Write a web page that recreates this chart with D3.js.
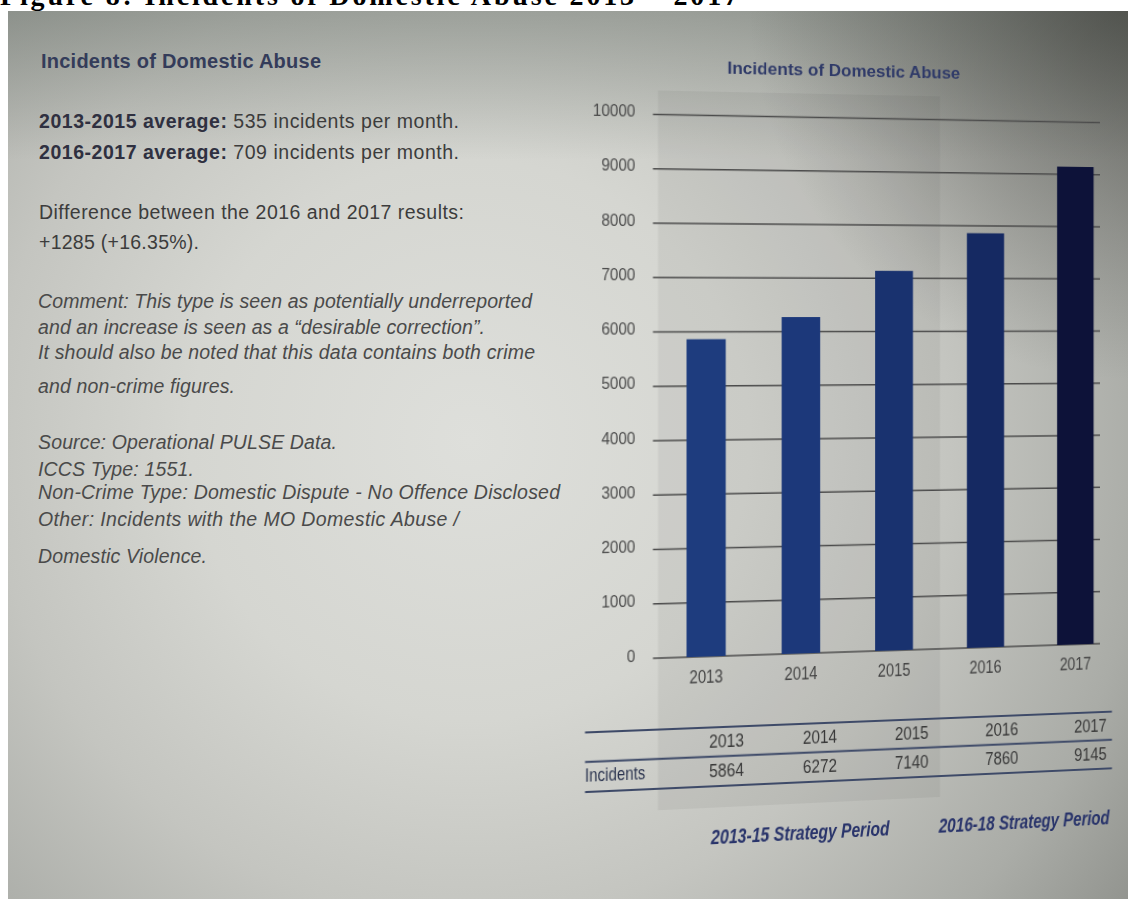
<!DOCTYPE html>
<html><head><meta charset="utf-8">
<script src="https://cdn.jsdelivr.net/npm/d3@7"></script>
<style>
html,body{margin:0;padding:0;background:#fff;width:1128px;height:899px;overflow:hidden}
#bg{position:absolute;left:0;top:0}
#chartWrap{position:absolute;left:0;top:0;width:1128px;height:899px;
  transform-origin:875px 310px;transform:perspective(1000px) rotateY(5.5deg)}
#chart{overflow:visible}
</style></head><body>
<svg id="bg" width="1128" height="899"></svg>
<div id="chartWrap"><svg id="chart" width="1128" height="899"></svg></div>
<script>
// ---------------- data ----------------
const years = ["2013", "2014", "2015", "2016", "2017"];
const incidents = [5864, 6272, 7140, 7860, 9145];
const yTicks = [0, 1000, 2000, 3000, 4000, 5000, 6000, 7000, 8000, 9000, 10000];
const periodLabels = ["2013-15 Strategy Period", "2016-18 Strategy Period"];
const periodYears = [["2013", "2014", "2015"], ["2016", "2017"]];
const rowLabel = "Incidents";
const chartTitle = "Incidents of Domestic Abuse";
const captionText = "Figure 8: Incidents of Domestic Abuse 2013 \u2013 2017";
const panelTitle = "Incidents of Domestic Abuse";
const statLines = [["2013-2015 average:", " 535 incidents per month."],
                   ["2016-2017 average:", " 709 incidents per month."]];
const diffLines = ["Difference between the 2016 and 2017 results:", "+1285 (+16.35%)."];
const commentLines = ["Comment: This type is seen as potentially underreported",
  "and an increase is seen as a \u201Cdesirable correction\u201D.",
  "It should also be noted that this data contains both crime",
  "and non-crime figures."];
const sourceLines = ["Source: Operational PULSE Data.", "ICCS Type: 1551.",
  "Non-Crime Type: Domestic Dispute - No Offence Disclosed",
  "Other: Incidents with the MO Domestic Abuse /", "Domestic Violence."];

// ---------------- styles ----------------
const barColors = ["#1e3c7e", "#1c387a", "#19326f", "#152962", "#0d1239"];
const sans = "'Liberation Sans', Arial, Helvetica, sans-serif";

// ---------------- background / photo ----------------
const bg = d3.select("#bg");
const defs = bg.append("defs");
const vig = defs.append("radialGradient").attr("id", "vig")
  .attr("gradientUnits", "userSpaceOnUse").attr("cx", 470).attr("cy", 440).attr("r", 800);
[[0, "#dedfdb"], [0.35, "#d5d6d1"], [0.6, "#c4c5c0"], [0.85, "#aaaca7"], [1, "#939590"]]
  .forEach(([o, c]) => vig.append("stop").attr("offset", o).attr("stop-color", c));
const topShade = defs.append("linearGradient").attr("id", "topShade")
  .attr("gradientUnits", "userSpaceOnUse").attr("x1", 0).attr("y1", 11).attr("x2", 0).attr("y2", 160);
topShade.append("stop").attr("offset", 0).attr("stop-color", "#4a544c").attr("stop-opacity", 0.35);
topShade.append("stop").attr("offset", 1).attr("stop-color", "#4a544c").attr("stop-opacity", 0);
const corner = defs.append("radialGradient").attr("id", "corner")
  .attr("gradientUnits", "userSpaceOnUse").attr("cx", 1128).attr("cy", 0).attr("r", 380);
corner.append("stop").attr("offset", 0).attr("stop-color", "#2e2e2a").attr("stop-opacity", 0.55);
corner.append("stop").attr("offset", 1).attr("stop-color", "#2e2e2a").attr("stop-opacity", 0);

bg.append("rect").attr("width", 1128).attr("height", 899).attr("fill", "#fff");
bg.append("text").attr("x", 0).attr("y", 5).attr("font-family", "'Liberation Serif', 'Times New Roman', serif")
  .attr("font-weight", "bold").attr("font-size", 28).attr("fill", "#000")
  .attr("textLength", 738).text(captionText);
const photo = bg.append("g");
photo.append("rect").attr("x", 8).attr("y", 11).attr("width", 1120).attr("height", 888).attr("fill", "url(#vig)");
photo.append("rect").attr("x", 8).attr("y", 11).attr("width", 1120).attr("height", 888).attr("fill", "url(#topShade)");
photo.append("rect").attr("x", 8).attr("y", 11).attr("width", 1120).attr("height", 888).attr("fill", "url(#corner)");

// ---------------- left text panel ----------------
const left = bg.append("g");
function addLine(parts, xPos, base, end, opts) {
  const t = left.append("text").attr("x", xPos).attr("y", base)
    .attr("font-family", sans).attr("font-size", opts.size || 19.5)
    .attr("fill", opts.fill || "#3c3c3c")
    .attr("textLength", end - xPos).attr("lengthAdjust", "spacing");
  if (opts.italic) t.attr("font-style", "italic");
  if (opts.weight) t.attr("font-weight", opts.weight);
  parts.forEach(p => {
    const s = t.append("tspan").text(p.text);
    if (p.bold) s.attr("font-weight", "bold").attr("fill", "#2f3040");
  });
}
addLine([{text: panelTitle}], 41, 68, 321, {size: 20, weight: "bold", fill: "#343c5a"});
const statBase = [128, 159], statEnd = [459, 459];
statLines.forEach((l, i) => addLine([{text: l[0], bold: true}, {text: l[1]}], 39, statBase[i], statEnd[i], {}));
const diffBase = [219, 249], diffEnd = [464, 199];
diffLines.forEach((l, i) => addLine([{text: l}], 39, diffBase[i], diffEnd[i], {}));
const comBase = [308, 334, 359, 393], comEnd = [532, 485, 535, 235];
commentLines.forEach((l, i) => addLine([{text: l}], 38, comBase[i], comEnd[i], {italic: true, fill: "#4a4a4a"}));
const srcBase = [449, 476, 499, 526, 563], srcEnd = [337, 194, 560, 459, 207];
sourceLines.forEach((l, i) => addLine([{text: l}], 38, srcBase[i], srcEnd[i], {italic: true, fill: "#4a4a4a"}));

// ---------------- chart ----------------
const svg = d3.select("#chart");
const x = d3.scaleBand().domain(years).range([656.6, 1106])
  .paddingInner(0.59).paddingOuter(0.21).align(0.83);
const y = d3.scaleLinear().domain([0, 10000]).range([651, 118.5]);
const tx = d3.scalePoint().domain(years).range([728, 1096]);
const color = d3.scaleOrdinal().domain(years).range(barColors);
const data = years.map((yr, i) => ({year: yr, value: incidents[i]}));
const half = x.step() * x.paddingInner() / 2;
// condensed look: squeeze glyphs to a per-character width
const squeeze = (sel, perChar) => sel.attr("textLength", function () { return this.textContent.length * perChar; })
  .attr("lengthAdjust", "spacingAndGlyphs");

// strategy period shading
const p0 = periodYears[0];
svg.append("rect")
  .attr("x", x(p0[0]) - half).attr("y", 95)
  .attr("width", x(p0[p0.length - 1]) + x.bandwidth() + half - (x(p0[0]) - half))
  .attr("height", 705).attr("fill", "#3c3c3c").attr("fill-opacity", 0.07);

// title
svg.append("text").attr("x", 845).attr("y", 77).attr("text-anchor", "middle")
  .attr("font-family", sans).attr("font-weight", "bold").attr("font-size", 17)
  .attr("fill", "#2f3a68").text(chartTitle);

// gridlines
svg.append("g").selectAll("line").data(yTicks).join("line")
  .attr("x1", x.range()[0]).attr("x2", x.range()[1])
  .attr("y1", d => y(d)).attr("y2", d => y(d))
  .attr("stroke", "#4b4b4b").attr("stroke-width", 1.6);

// y axis labels
const yAxis = svg.append("g").attr("transform", `translate(${x.range()[0]},0)`)
  .call(d3.axisLeft(y).tickValues(yTicks).tickSize(0).tickPadding(17).tickFormat(d3.format("d")));
yAxis.select(".domain").remove();
yAxis.selectAll("text").attr("font-family", sans).attr("font-size", 17)
  .attr("fill", "#4a4a4a").attr("dy", "0.12em").call(squeeze, 8.1);

// bars
svg.append("g").selectAll("rect").data(data).join("rect")
  .attr("x", d => x(d.year)).attr("width", x.bandwidth())
  .attr("y", d => y(d.value)).attr("height", d => y(0) - y(d.value))
  .attr("fill", d => color(d.year));

// x axis labels
const xAxis = svg.append("g").attr("transform", `translate(0,${y(0)})`)
  .call(d3.axisBottom(x).tickSize(0).tickPadding(14));
xAxis.select(".domain").remove();
xAxis.selectAll("text").attr("font-family", sans).attr("font-size", 17.5).attr("fill", "#444")
  .call(squeeze, 8.2);

// data table
const tableX0 = 591.6, tableX1 = 1118.6;
const rowLines = [721, 749.7, 779];
svg.append("g").selectAll("line").data(rowLines).join("line")
  .attr("x1", tableX0).attr("x2", tableX1).attr("y1", d => d).attr("y2", d => d)
  .attr("stroke", "#3e4a68").attr("stroke-width", 2);
svg.append("g").selectAll("text").data(years).join("text")
  .attr("x", d => tx(d)).attr("y", 741).attr("text-anchor", "middle")
  .attr("font-family", sans).attr("font-size", 18.5).attr("fill", "#383838").text(d => d)
  .call(squeeze, 8.5);
svg.append("g").selectAll("text").data(data).join("text")
  .attr("x", d => tx(d.year)).attr("y", 770.5).attr("text-anchor", "middle")
  .attr("font-family", sans).attr("font-size", 18.5).attr("fill", "#383838").text(d => d.value)
  .call(squeeze, 8.5);
svg.append("text").attr("x", tableX0).attr("y", 769.5)
  .attr("font-family", sans).attr("font-size", 18).attr("fill", "#2c3550").text(rowLabel)
  .call(squeeze, 6.4);

// strategy period labels (condensed via horizontal scale)
const pl = svg.append("g").selectAll("g").data(periodLabels).join("g")
  .attr("transform", (d, i) => {
    const cx = d3.mean(periodYears[i], yr => x(yr) + x.bandwidth() / 2) - (i ? 6 : 0);
    return `translate(${cx},835.5) scale(0.8,1)`;
  });
pl.append("text").attr("x", 0).attr("y", 0).attr("text-anchor", "middle")
  .attr("font-family", sans).attr("font-weight", "bold").attr("font-style", "italic")
  .attr("font-size", 19.5).attr("fill", "#28336a").text(d => d);
</script>
</body></html>
